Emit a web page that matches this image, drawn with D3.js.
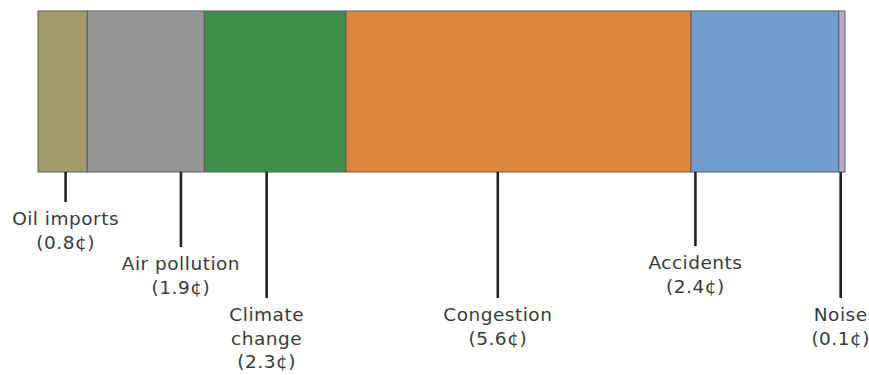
<!DOCTYPE html>
<html>
<head>
<meta charset="utf-8">
<script src="https://cdn.jsdelivr.net/npm/d3@7"></script>
<style>
  html, body { margin: 0; padding: 0; background: #ffffff; }
  svg { display: block; }
</style>
</head>
<body>
<svg id="chart" width="869" height="375"></svg>
<script>
// External costs of driving, cents per mile
const categories = ["Oil imports", "Air pollution", "Climate change", "Congestion", "Accidents", "Noise"];
const values = [0.8, 1.9, 2.3, 5.6, 2.4, 0.1];
const labelLines = [
  ["Oil imports"],
  ["Air pollution"],
  ["Climate", "change"],
  ["Congestion"],
  ["Accidents"],
  ["Noise"]
];

// Layout: where each leader sits inside its segment, and how far down it reaches
const leaderFrac = [0.56, 0.8, 0.44, 0.44, 0.03, 0.3];
const leaderEnd = [202, 247, 298, 298, 246, 298];
const colors = ["#a39a69", "#949494", "#3f8e4c", "#dc853b", "#6d9ccd", "#b8a9d0"];

const svg = d3.select("#chart");
const barTop = 11, barBottom = 172;
const total = d3.sum(values);
const x = d3.scaleLinear().domain([0, total]).range([38, 845]);

const starts = [];
values.reduce((acc, v) => { starts.push(acc); return acc + v; }, 0);

const data = categories.map((c, i) => ({
  name: c, value: values[i], start: starts[i], end: starts[i] + values[i],
  lines: labelLines[i], frac: leaderFrac[i], yEnd: leaderEnd[i], color: colors[i]
}));

// Stacked segments
svg.append("g").selectAll("rect").data(data).join("rect")
  .attr("x", d => x(d.start))
  .attr("y", barTop)
  .attr("width", d => x(d.end) - x(d.start))
  .attr("height", barBottom - barTop)
  .attr("fill", d => d.color)
  .attr("stroke", "#5e5e5e")
  .attr("stroke-width", 1);

// Leader lines
const lx = d => x(d.start) + d.frac * (x(d.end) - x(d.start));
svg.append("g").selectAll("line").data(data).join("line")
  .attr("x1", lx).attr("x2", lx)
  .attr("y1", barBottom).attr("y2", d => d.yEnd)
  .attr("stroke", "#222")
  .attr("stroke-width", 2.6);

// Labels with values
const labels = svg.append("g")
  .attr("font-family", "'DejaVu Sans', sans-serif")
  .attr("font-size", 18.5)
  .attr("letter-spacing", 0.5)
  .attr("fill", "#3a3a3a")
  .attr("text-anchor", "middle")
  .selectAll("text").data(data).join("text")
  .attr("transform", d => `translate(${lx(d)},${d.yEnd + 23})`);

labels.each(function(d) {
  const t = d3.select(this);
  const rows = d.lines.concat([`(${d.value}\u00a2)`]);
  rows.forEach((r, i) => {
    t.append("tspan").attr("x", 0).attr("y", i * 23.5).text(r);
  });
});
</script>
</body>
</html>
